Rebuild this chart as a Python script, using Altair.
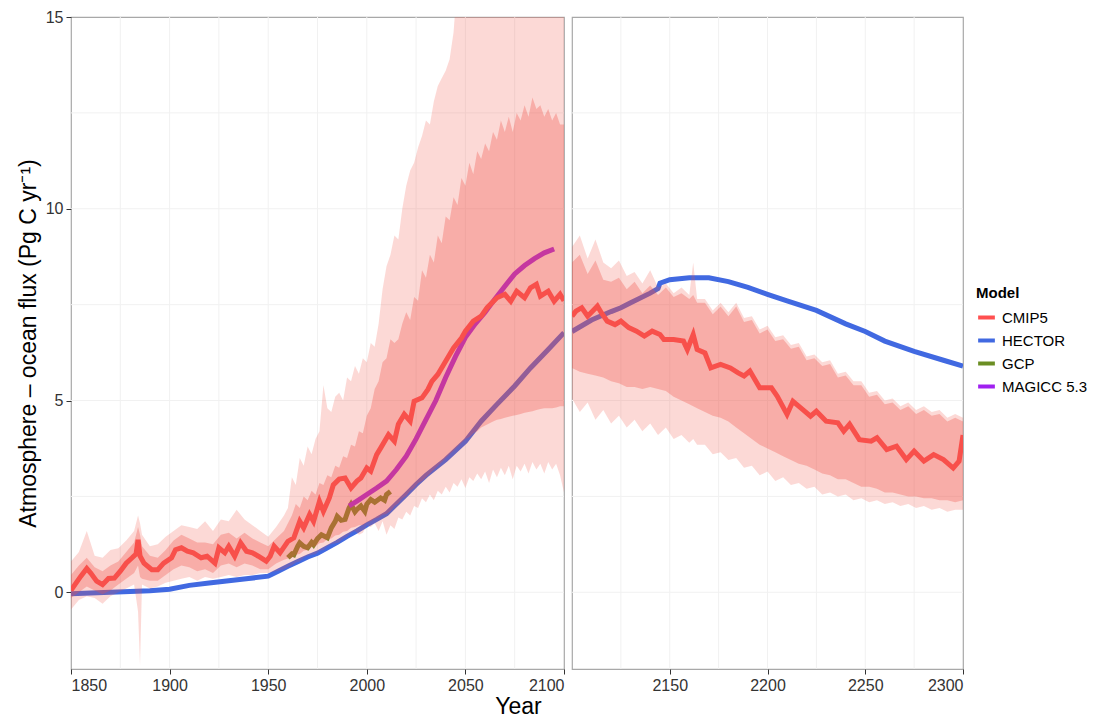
import altair as alt
import pandas as pd

FONT = "Liberation Sans"
MODELS = ["CMIP5", "HECTOR", "GCP", "MAGICC 5.3"]
COLORS = ["#FF5050", "#4169E1", "#6B8E23", "#A020F0"]

# ---------------- CMIP5 multi-model mean ----------------
cmip_l_year = [1850, 1852, 1855, 1858, 1860, 1863, 1866, 1869, 1872, 1875, 1878, 1881, 1883, 1884, 1885,
               1887, 1891, 1894, 1897, 1901, 1903, 1906, 1909, 1912, 1916, 1919, 1923, 1925, 1928, 1930,
               1933, 1936, 1939, 1942, 1945, 1949, 1951, 1953, 1956, 1960, 1963, 1966, 1968, 1971, 1973,
               1976, 1978, 1981, 1983, 1986, 1989, 1992, 1995, 1997, 2000, 2002, 2005, 2007, 2011, 2014,
               2016, 2019, 2022, 2024, 2028, 2031, 2033, 2036, 2039, 2042, 2044, 2048, 2050, 2054, 2058,
               2061, 2066, 2070, 2073, 2076, 2080, 2083, 2086, 2088, 2092, 2095, 2098, 2100]
cmip_l_val = [0.05, 0.2, 0.42, 0.62, 0.5, 0.29, 0.2, 0.36, 0.37, 0.55, 0.76, 0.9, 1.0, 1.37, 0.95,
              0.76, 0.59, 0.59, 0.76, 0.9, 1.11, 1.16, 1.07, 1.03, 0.9, 0.94, 0.76, 1.16, 1.03, 1.2,
              0.94, 1.29, 1.07, 1.03, 0.94, 0.81, 0.94, 1.2, 1.03, 1.33, 1.42, 1.85, 1.68, 2.03, 1.85,
              2.37, 2.11, 2.46, 2.8, 2.95, 2.98, 2.72, 2.9, 2.98, 3.24, 3.16, 3.59, 3.76, 4.11, 3.94,
              4.38, 4.64, 4.46, 4.98, 5.07, 5.29, 5.5, 5.68, 5.94, 6.2, 6.37, 6.63, 6.81, 7.07, 7.2,
              7.42, 7.68, 7.77, 7.59, 7.85, 7.68, 7.94, 8.03, 7.72, 7.85, 7.59, 7.77, 7.6]
cmip_r_year = [2100, 2102, 2105, 2108, 2113, 2115, 2118, 2122, 2125, 2129, 2133, 2137, 2141, 2145, 2147,
               2152, 2157, 2159, 2162, 2164, 2168, 2171, 2176, 2181, 2185, 2188, 2191, 2196, 2202, 2205,
               2210, 2213, 2217, 2222, 2225, 2230, 2236, 2239, 2242, 2247, 2253, 2256, 2261, 2266, 2271,
               2275, 2280, 2285, 2290, 2295, 2298, 2300]
cmip_r_val = [7.2, 7.33, 7.42, 7.2, 7.46, 7.29, 7.07, 6.98, 7.07, 6.9, 6.81, 6.68, 6.81, 6.72, 6.59,
              6.59, 6.55, 6.33, 6.72, 6.33, 6.24, 5.85, 5.94, 5.85, 5.72, 5.64, 5.77, 5.33, 5.33, 5.11,
              4.64, 4.98, 4.81, 4.59, 4.72, 4.46, 4.42, 4.2, 4.38, 3.98, 3.94, 4.03, 3.72, 3.81, 3.46,
              3.68, 3.42, 3.59, 3.46, 3.24, 3.42, 4.1]

# ---------------- HECTOR ----------------
hector_l_year = [1850, 1860, 1870, 1880, 1890, 1900, 1910, 1920, 1930, 1940, 1950, 1955, 1960, 1965, 1970,
                 1975, 1980, 1985, 1990, 1995, 2000, 2005, 2010, 2020, 2025, 2030, 2040, 2050, 2058, 2066,
                 2075, 2083, 2092, 2100]
hector_l_val = [-0.04, -0.02, 0.0, 0.02, 0.04, 0.08, 0.18, 0.24, 0.3, 0.36, 0.42, 0.55, 0.68, 0.8, 0.92,
                1.02, 1.16, 1.3, 1.46, 1.6, 1.76, 1.9, 2.05, 2.55, 2.81, 3.05, 3.46, 3.94, 4.46, 4.9,
                5.38, 5.85, 6.33, 6.77]
hector_r_year = [2100, 2110, 2120, 2125, 2130, 2140, 2144, 2145, 2150, 2160, 2170, 2180, 2190, 2200, 2210,
                 2225, 2240, 2250, 2260, 2275, 2290, 2300]
hector_r_val = [6.8, 7.1, 7.32, 7.42, 7.55, 7.8, 7.92, 8.06, 8.15, 8.2, 8.2, 8.1, 7.95, 7.77, 7.6,
                7.35, 7.0, 6.8, 6.55, 6.28, 6.05, 5.9]

# ---------------- GCP ----------------
gcp_year = [1960, 1962, 1963, 1965, 1966, 1968, 1970, 1972, 1973, 1975, 1977, 1980, 1982, 1984, 1985,
            1987, 1989, 1991, 1992, 1994, 1995, 1997, 1999, 2000, 2002, 2004, 2007, 2009, 2010, 2012]
gcp_val = [0.9, 1.0, 0.98, 1.2, 1.29, 1.2, 1.16, 1.3, 1.24, 1.4, 1.5, 1.42, 1.68, 1.85, 1.98,
           1.88, 1.9, 2.2, 2.29, 2.1, 2.16, 2.25, 2.11, 2.3, 2.42, 2.35, 2.46, 2.4, 2.55, 2.63]

# ---------------- MAGICC 5.3 ----------------
magicc_year = [1991, 1995, 2000, 2005, 2010, 2015, 2020, 2025, 2030, 2035, 2040, 2045, 2050, 2055, 2060,
               2065, 2070, 2075, 2080, 2085, 2090, 2095]
magicc_val = [2.25, 2.38, 2.55, 2.72, 2.9, 3.2, 3.55, 4.0, 4.5, 5.0, 5.6, 6.15, 6.65, 7.0, 7.3,
              7.65, 7.98, 8.3, 8.52, 8.7, 8.85, 8.95]

# ---------------- CMIP5 spread (left panel) ----------------
band_l_year = ([1850, 1854, 1858, 1862, 1866, 1870, 1874, 1878, 1882, 1884, 1885, 1886, 1890, 1894, 1898,
                1902, 1906, 1910, 1914, 1918, 1922, 1926, 1930, 1934, 1938, 1942, 1946, 1950, 1954, 1958]
               + list(range(1960, 2101, 2)))
outer_l_lo = [-0.45, -0.2, -0.1, -0.15, -0.3, -0.1, 0.0, 0.1, 0.2, -0.5, -1.9, 0.2, 0.1, 0.15, 0.25,
              0.3, 0.35, 0.4, 0.3, 0.4, 0.35, 0.4, 0.45, 0.4, 0.45, 0.45, 0.5, 0.5, 0.55, 0.6,
              0.65, 0.7, 0.78, 0.8, 0.9, 0.95, 0.98, 1.0, 1.08, 1.1,
              1.2, 1.25, 1.28, 1.3, 1.4, 1.45, 1.55, 1.6, 1.5, 1.55,
              1.75, 1.7, 1.8, 1.6, 1.85, 1.5, 1.75, 1.65, 1.95, 1.9,
              2.1, 2.0, 2.25, 2.2, 2.45, 2.35, 2.55, 2.4, 2.65, 2.55,
              2.75, 2.6, 2.85, 2.75, 2.95, 2.72, 3.0, 2.9, 3.1, 2.95,
              3.15, 2.85, 3.2, 3.0, 3.25, 3.05, 3.3, 2.95, 3.3, 3.15,
              3.35, 3.1, 3.4, 3.2, 3.35, 3.1, 3.4, 3.2, 3.35, 3.05, 2.6]
inner_l_lo = [-0.15, 0.0, 0.15, 0.05, -0.05, 0.05, 0.2, 0.35, 0.5, 0.7, 0.4, 0.35, 0.3, 0.3, 0.45,
              0.6, 0.7, 0.65, 0.55, 0.6, 0.5, 0.7, 0.75, 0.65, 0.75, 0.7, 0.6, 0.6, 0.75, 0.85,
              0.88, 0.9, 0.98, 1.0, 1.08, 1.1, 1.18, 1.2, 1.28, 1.3,
              1.38, 1.4, 1.48, 1.5, 1.58, 1.6, 1.68, 1.7, 1.75, 1.75,
              1.82, 1.85, 1.92, 1.95, 2.02, 2.05, 2.12, 2.25, 2.32, 2.45,
              2.52, 2.65, 2.72, 2.85, 2.9, 3.0, 3.1, 3.2, 3.3, 3.4,
              3.5, 3.6, 3.7, 3.8, 3.9, 4.0, 4.05, 4.15, 4.2, 4.3,
              4.35, 4.4, 4.45, 4.5, 4.52, 4.55, 4.58, 4.6, 4.62, 4.65,
              4.68, 4.7, 4.72, 4.75, 4.78, 4.8, 4.8, 4.8, 4.82, 4.85, 4.85]
inner_l_hi = [0.45, 0.7, 0.9, 0.65, 0.55, 0.7, 0.8, 1.05, 1.3, 1.7, 1.5, 1.2, 0.95, 0.9, 1.1,
              1.35, 1.5, 1.4, 1.3, 1.3, 1.25, 1.5, 1.55, 1.4, 1.55, 1.4, 1.3, 1.2, 1.4, 1.6,
              1.8, 2.0, 2.3, 2.2, 2.5, 2.4, 2.65, 2.55, 2.85, 2.8,
              3.05, 3.0, 3.3, 3.25, 3.55, 3.5, 3.85, 3.8, 4.2, 4.15,
              4.6, 4.8, 5.3, 5.5, 6.0, 6.1, 6.6, 6.5, 6.6, 7.0,
              7.3, 7.1, 7.7, 7.6, 8.4, 8.2, 8.8, 8.6, 9.3, 9.1,
              9.8, 9.7, 10.3, 10.1, 10.8, 10.6, 11.2, 10.9, 11.5, 11.3,
              11.7, 11.5, 12.0, 11.8, 12.3, 12.0, 12.4, 12.0, 12.5, 12.3,
              12.7, 12.4, 12.9, 12.6, 12.7, 12.4, 12.6, 12.3, 12.5, 12.2, 12.2]
outer_l_hi = [0.8, 1.05, 1.6, 0.95, 0.9, 1.1, 1.15, 1.35, 1.6, 2.0, 1.8, 1.5, 1.2, 1.25, 1.45,
              1.6, 1.75, 1.7, 1.65, 1.85, 1.6, 1.9, 1.85, 2.15, 1.9, 1.75, 1.6, 1.45, 1.7, 2.0,
              2.2, 3.0, 2.8, 3.5, 3.3, 3.8, 3.6, 4.0, 4.2, 5.4,
              4.8, 4.7, 5.1, 5.2, 5.0, 5.6, 5.5, 5.9, 5.7, 6.1,
              6.0, 6.5, 6.4, 7.0, 7.9, 8.5, 8.8, 9.3, 9.2, 10.0,
              10.6, 11.0, 11.2, 11.6, 11.9, 12.3, 12.2, 12.8, 13.2, 13.4,
              13.6, 13.9, 14.6, 16.0, 18.0, 18.0, 18.0, 18.0, 18.0, 18.0,
              18.0, 18.0, 18.0, 18.0, 18.0, 18.0, 18.0, 18.0, 18.0, 18.0,
              18.0, 18.0, 18.0, 18.0, 18.0, 18.0, 18.0, 18.0, 18.0, 18.0, 18.0]

# ---------------- CMIP5 spread (right panel) ----------------
band_r_year = [2100, 2104, 2108, 2112, 2116, 2120, 2124, 2128, 2132, 2136, 2140, 2144, 2148, 2152, 2156,
               2160, 2162, 2164, 2168, 2172, 2176, 2180, 2184, 2188, 2192, 2196, 2200, 2204, 2208, 2212,
               2216, 2220, 2224, 2228, 2232, 2236, 2240, 2244, 2248, 2252, 2256, 2260, 2264, 2268, 2272,
               2276, 2280, 2284, 2288, 2292, 2296, 2300]
outer_r_lo = [5.05, 4.7, 4.95, 4.5, 4.75, 4.4, 4.6, 4.3, 4.5, 4.2, 4.4, 4.1, 4.3, 4.0, 4.1,
              3.9, 4.0, 3.85, 3.85, 3.6, 3.65, 3.45, 3.5, 3.25, 3.3, 3.05, 3.15, 2.9, 3.0, 2.8,
              2.85, 2.7, 2.75, 2.55, 2.6, 2.5, 2.55, 2.4, 2.45, 2.35, 2.4, 2.3, 2.35, 2.25, 2.3,
              2.2, 2.25, 2.15, 2.2, 2.1, 2.15, 2.15]
inner_r_lo = [5.85, 5.75, 5.7, 5.65, 5.6, 5.5, 5.45, 5.35, 5.35, 5.3, 5.35, 5.3, 5.25, 5.1, 5.0,
              4.9, 4.85, 4.8, 4.7, 4.6, 4.55, 4.45, 4.3, 4.15, 4.0, 3.85, 3.75, 3.65, 3.55, 3.45,
              3.35, 3.3, 3.2, 3.1, 3.05, 2.95, 2.95, 2.85, 2.75, 2.75, 2.7, 2.6, 2.6, 2.55, 2.5,
              2.5, 2.45, 2.45, 2.4, 2.4, 2.35, 2.4]
inner_r_hi = [8.6, 8.8, 8.3, 8.65, 8.15, 8.1, 8.2, 7.9, 8.1, 7.8, 8.0, 7.75, 7.95, 7.7, 7.8,
              7.65, 7.75, 7.55, 7.55, 7.25, 7.45, 7.2, 7.45, 7.05, 7.1, 6.75, 6.85, 6.55, 6.6, 6.35,
              6.4, 6.05, 6.1, 5.9, 5.95, 5.6, 5.65, 5.4, 5.4, 5.1, 5.15, 4.9, 4.95, 4.75, 4.85,
              4.65, 4.75, 4.6, 4.65, 4.45, 4.55, 4.45]
outer_r_hi = [9.0, 9.3, 8.7, 9.2, 8.6, 8.45, 8.65, 8.25, 8.35, 8.05, 8.4, 7.95, 8.05, 7.8, 7.95,
              7.75, 8.6, 7.65, 7.65, 7.35, 7.55, 7.3, 7.55, 7.15, 7.2, 6.85, 6.95, 6.65, 6.7, 6.45,
              6.5, 6.15, 6.2, 6.0, 6.05, 5.7, 5.75, 5.5, 5.5, 5.2, 5.25, 5.0, 5.05, 4.85, 4.95,
              4.75, 4.85, 4.7, 4.75, 4.55, 4.65, 4.55]

# ---------------- grid / tick values ----------------
grid_x_l = [1875, 1900, 1925, 1950, 1975, 2000, 2025, 2050, 2075]
grid_x_r = [2125, 2150, 2175, 2200, 2225, 2250, 2275]
grid_y = [0, 2.5, 5, 7.5, 10, 12.5]
ticks_x_l = [1850, 1900, 1950, 2000, 2050, 2100]
ticks_x_r = [2150, 2200, 2250, 2300]
ticks_y = [0, 5, 10, 15]

Y_TITLE = "Atmosphere \u2013 ocean flux (Pg C yr\u207b\u00b9)"
TXT = "#333333"


def lines_df(parts):
    frames = []
    for name, yrs, vals in parts:
        frames.append(pd.DataFrame({"year": yrs, "v": vals, "Model": name}))
    return pd.concat(frames, ignore_index=True)


def panel(domain, parts, band_year, olo, ilo, ihi, ohi, gx, tx, width, left):
    xs = alt.Scale(domain=domain, nice=False, zero=False)
    ys = alt.Scale(domain=[-2, 15], nice=False, zero=False)
    if left:
        xaxis = alt.Axis(values=tx, format="d", title="Year", titleX=447, titlePadding=2, grid=False,
                         domain=False, tickSize=5, tickColor=TXT, labelColor=TXT, labelFontSize=16,
                         labelPadding=3, titleFontSize=23, titleFontWeight="normal", titleColor="#000000")
        yaxis = alt.Axis(values=ticks_y, format="d", title=Y_TITLE, grid=False, domain=False, tickSize=5,
                         tickColor=TXT, labelColor=TXT, labelFontSize=16, labelPadding=3,
                         titleFontSize=23, titleFontWeight="normal", titleColor="#000000", titlePadding=5)
        yenc = lambda f: alt.Y(f, scale=ys, axis=yaxis)
    else:
        xaxis = alt.Axis(values=tx, format="d", title=None, grid=False, domain=False, tickSize=5,
                         tickColor=TXT, labelColor=TXT, labelFontSize=16, labelPadding=3)
        yenc = lambda f: alt.Y(f, scale=ys, axis=None)
    xenc = alt.X("year:Q", scale=xs, axis=xaxis)

    gxdf = pd.DataFrame({"year": gx})
    gydf = pd.DataFrame({"v": grid_y})
    base_x = alt.Chart(gxdf).mark_rule(color="#F1F1F1", strokeWidth=1).encode(x=xenc)
    base_y = alt.Chart(gydf).mark_rule(color="#F1F1F1", strokeWidth=1).encode(y=yenc("v:Q"))

    ldf = lines_df(parts)
    lines = alt.Chart(ldf).mark_line(strokeWidth=5, clip=True).encode(
        x=xenc, y=yenc("v:Q"),
        color=alt.Color("Model:N", scale=alt.Scale(domain=MODELS, range=COLORS),
                        legend=alt.Legend(title="Model", orient="none", legendX=905, legendY=269,
                                          symbolType="stroke", symbolStrokeWidth=4, symbolSize=280,
                                          titleFontSize=15, titleFontWeight="bold", labelFontSize=15,
                                          titleColor="#000000", labelColor="#000000", rowPadding=4,
                                          titlePadding=6, labelOffset=5)),
    )
    bdf_o = pd.DataFrame({"year": band_year, "lo": olo, "hi": ohi})
    bdf_i = pd.DataFrame({"year": band_year, "lo": ilo, "hi": ihi})
    outer = alt.Chart(bdf_o).mark_area(color="#F05046", opacity=0.22, clip=True).encode(
        x=xenc, y=yenc("lo:Q"), y2="hi:Q")
    inner = alt.Chart(bdf_i).mark_area(color="#F05046", opacity=0.32, clip=True).encode(
        x=xenc, y=yenc("lo:Q"), y2="hi:Q")
    return alt.layer(base_x, base_y, lines, outer, inner).properties(width=width, height=652)


left = panel([1850, 2100],
             [("HECTOR", hector_l_year, hector_l_val), ("GCP", gcp_year, gcp_val),
              ("MAGICC 5.3", magicc_year, magicc_val), ("CMIP5", cmip_l_year, cmip_l_val)],
             band_l_year, outer_l_lo, inner_l_lo, inner_l_hi, outer_l_hi,
             grid_x_l, ticks_x_l, 493, True)
right = panel([2100, 2300],
              [("HECTOR", hector_r_year, hector_r_val), ("CMIP5", cmip_r_year, cmip_r_val)],
              band_r_year, outer_r_lo, inner_r_lo, inner_r_hi, outer_r_hi,
              grid_x_r, ticks_x_r, 391, False)

chart = (
    alt.hconcat(left, right, spacing=4)
    .resolve_scale(color="shared")
    .properties(padding={"left": 8, "top": 0, "right": 5, "bottom": 5}, background="#FFFFFF")
    .configure_view(stroke="#A8A8A8", strokeWidth=1.2)
    .configure_axis(labelFont=FONT, titleFont=FONT)
    .configure_legend(labelFont=FONT, titleFont=FONT)
)

chart.save("out.html", embed_options={"renderer": "svg", "actions": False})
